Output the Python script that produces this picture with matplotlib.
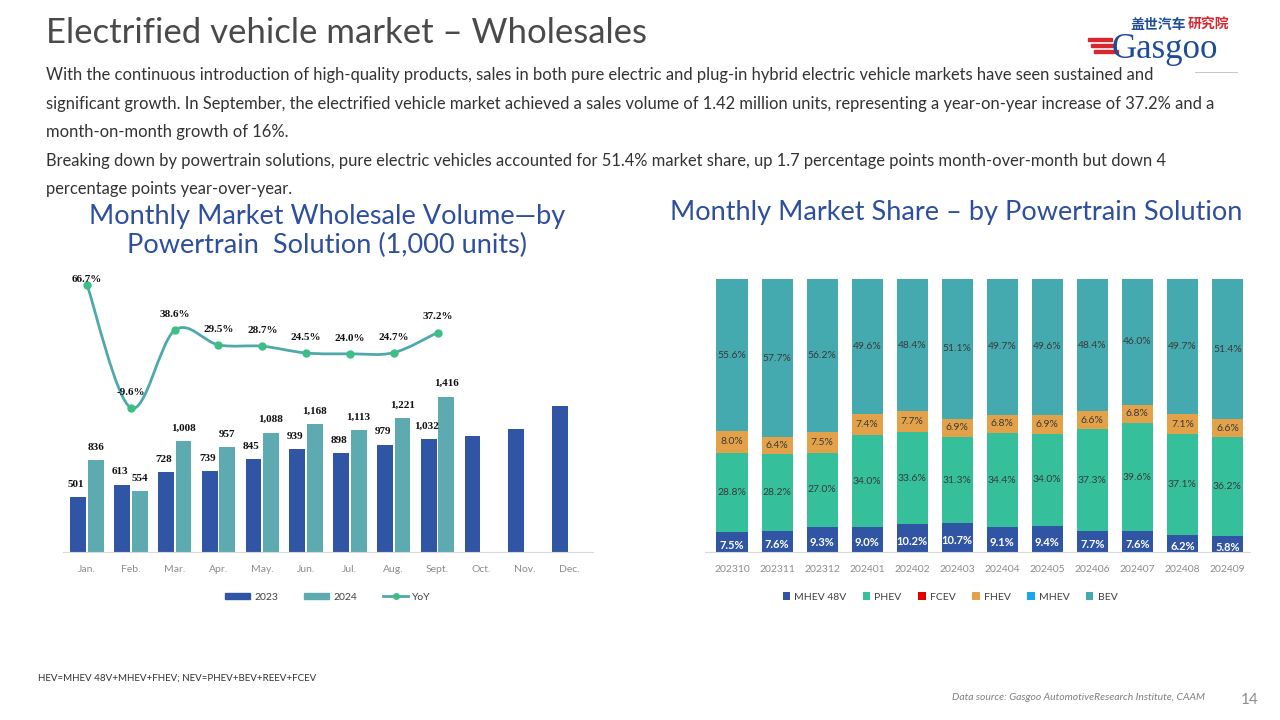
import matplotlib.pyplot as plt
from matplotlib.path import Path
from matplotlib.patches import PathPatch, Rectangle
from matplotlib.lines import Line2D

W, H = 1280, 720

months = ["Jan.", "Feb.", "Mar.", "Apr.", "May.", "Jun.", "Jul.", "Aug.",
          "Sept.", "Oct.", "Nov.", "Dec."]
vol_2023 = [501, 613, 728, 739, 845, 939, 898, 979, 1032, 1058, 1121, 1331]
vol_2024 = [836, 554, 1008, 957, 1088, 1168, 1113, 1221, 1416]
yoy = [66.7, -9.6, 38.6, 29.5, 28.7, 24.5, 24.0, 24.7, 37.2]
# the 2023 Oct-Dec bars carry no label in the source
labelled_2023 = 9

periods = ["202310", "202311", "202312", "202401", "202402", "202403",
           "202404", "202405", "202406", "202407", "202408", "202409"]
share_mhev48 = [7.5, 7.6, 9.3, 9.0, 10.2, 10.7, 9.1, 9.4, 7.7, 7.6, 6.2, 5.8]
share_phev = [28.8, 28.2, 27.0, 34.0, 33.6, 31.3, 34.4, 34.0, 37.3, 39.6, 37.1, 36.2]
share_fcev = [0] * 12
share_fhev = [8.0, 6.4, 7.5, 7.4, 7.7, 6.9, 6.8, 6.9, 6.6, 6.8, 7.1, 6.6]
share_mhev = [0] * 12
share_bev = [55.6, 57.7, 56.2, 49.6, 48.4, 51.1, 49.7, 49.6, 48.4, 46.0, 49.7, 51.4]

C_2023 = "#2F55A4"
C_2024 = "#5DAAB1"
C_LINE = "#4FA9AC"
C_MARK = "#3DBE85"
C_TITLE = "#2E4F9E"
SANS = "Lato"


def box(x0, y0, x1, y1):
    # pixel box (top-left origin) -> figure fraction rect
    return [x0 / W, 1 - y1 / H, (x1 - x0) / W, (y1 - y0) / H]


def smooth_path(xs, ys):
    # Catmull-Rom through the points, like Excel's smoothed line
    pts = list(zip(xs, ys))
    verts = [pts[0]]
    codes = [Path.MOVETO]
    n = len(pts)
    for i in range(n - 1):
        p0 = pts[max(i - 1, 0)]
        p1 = pts[i]
        p2 = pts[i + 1]
        p3 = pts[min(i + 2, n - 1)]
        c1 = (p1[0] + (p2[0] - p0[0]) / 6, p1[1] + (p2[1] - p0[1]) / 6)
        c2 = (p2[0] - (p3[0] - p1[0]) / 6, p2[1] - (p3[1] - p1[1]) / 6)
        verts += [c1, c2, p2]
        codes += [Path.CURVE4] * 3
    return Path(verts, codes)


fig = plt.figure(figsize=(12.8, 7.2), dpi=100)
fig.patch.set_facecolor("white")

# ---- header text
fig.text(46 / W, 1 - 33 / H, "Electrified vehicle market \u2013 Wholesales",
         family=SANS, fontsize=25, color="#4A4A4A", va="center")
body = [
    "With the continuous introduction of high-quality products, sales in both pure electric and plug-in hybrid electric vehicle markets have seen sustained and",
    "significant growth. In September, the electrified vehicle market achieved a sales volume of 1.42 million units, representing a year-on-year increase of 37.2% and a",
    "month-on-month growth of 16%.",
    "Breaking down by powertrain solutions, pure electric vehicles accounted for 51.4% market share, up 1.7 percentage points month-over-month but down 4",
    "percentage points year-over-year.",
]
for k, line in enumerate(body):
    fig.text(46 / W, 1 - (75 + 28.6 * k) / H, line, family=SANS, fontsize=11.9,
             color="#333333", va="center")

# ---- logo
fig.text(1186 / W, 1 - 25 / H, "盖世汽车", family="Noto Sans CJK SC",
         weight="bold", fontsize=10, color="#1F4E9A", va="center", ha="right")
fig.text(1188 / W, 1 - 25 / H, "研究院", family="Noto Sans CJK SC",
         weight="bold", fontsize=10, color="#D7282F", va="center", ha="left")
fig.text(1112 / W, 1 - 50 / H, "Gasgoo", family="Liberation Serif",
         fontsize=25, color="#1E4C9A", va="center")
for k in range(3):
    fig.patches.append(Rectangle(((1088 + 3 * k) / W, 1 - (41 + 6 * k) / H),
                                 24 / W, 3.5 / H, transform=fig.transFigure,
                                 color="#D7282F"))
fig.add_artist(Line2D([1195 / W, 1237 / W], [1 - 72 / H, 1 - 72 / H],
                      color="#BBBBBB", lw=0.6))

# ---- chart titles
fig.text(327 / W, 1 - 231 / H,
         "Monthly Market Wholesale Volume\u2014by\nPowertrain  Solution (1,000 units)",
         family=SANS, fontsize=19.5, color=C_TITLE, ha="center", va="center",
         linespacing=1.17)
fig.text(956 / W, 1 - 212 / H, "Monthly Market Share \u2013 by Powertrain Solution",
         family=SANS, fontsize=19.5, color=C_TITLE, ha="center", va="center")

# ---- left chart: volumes + YoY
ax = fig.add_axes(box(63, 270, 593, 552))
x_all = list(range(len(months)))
bw = 0.36
ax.bar([i - 0.2 for i in x_all], vol_2023, width=bw, color=C_2023, label="2023")
x24 = list(range(len(vol_2024)))
ax.bar([i + 0.2 for i in x24], vol_2024, width=bw, color=C_2024, label="2024")
for i in range(labelled_2023):
    ax.annotate(f"{vol_2023[i]:,}", (i - 0.25, vol_2023[i]), xytext=(0, 6),
                textcoords="offset points", ha="center", va="bottom",
                family="Liberation Serif", weight="bold", fontsize=8, color="#111111")
for i in x24:
    ax.annotate(f"{vol_2024[i]:,}", (i + 0.2, vol_2024[i]), xytext=(0, 6),
                textcoords="offset points", ha="center", va="bottom",
                family="Liberation Serif", weight="bold", fontsize=8, color="#111111")
ax.set_xlim(-0.55, 11.55)
ax.set_ylim(0, 2570)
ax.set_xticks(x_all)
ax.set_xticklabels(months, family=SANS, fontsize=7.5, color="#8C8C8C")
ax.tick_params(axis="x", length=0, pad=9)
ax.set_yticks([])
for s in ["top", "left", "right"]:
    ax.spines[s].set_visible(False)
ax.spines["bottom"].set_color("#D9D9D9")
ax.patch.set_alpha(0)

ax2 = ax.twinx()
ax2.set_ylim(-99, 76)
ax2.add_patch(PathPatch(smooth_path(x24, yoy), fill=False, edgecolor=C_LINE,
                        lw=2, capstyle="round"))
ax2.plot(x24, yoy, "o", color=C_MARK, ms=5, zorder=3)
for i, v in enumerate(yoy):
    off = 1 if i == 0 else 8
    ax2.annotate(f"{v:.1f}%", (i, v), xytext=(0, off), textcoords="offset points",
                 ha="center", va="bottom", family="Liberation Serif",
                 weight="bold", fontsize=8, color="#111111")
ax2.set_yticks([])
for s in ax2.spines.values():
    s.set_visible(False)

handles = [Rectangle((0, 0), 1, 1, color=C_2023), Rectangle((0, 0), 1, 1, color=C_2024),
           Line2D([], [], color=C_LINE, lw=2, marker="o", ms=4, mfc=C_MARK, mec=C_MARK)]
fig.legend(handles, ["2023", "2024", "YoY"], loc="center", ncol=3,
           bbox_to_anchor=(328 / W, 1 - 597 / H), frameon=False,
           prop={"family": SANS, "size": 7.5}, handlelength=2.4, handleheight=0.6,
           columnspacing=2.5, handletextpad=0.4, labelcolor="#404040")

# ---- right chart: 100% stacked shares
axr = fig.add_axes(box(705, 279, 1250, 552))
series = [("MHEV 48V", share_mhev48, "#2F55A4"), ("PHEV", share_phev, "#35C09B"),
          ("FCEV", share_fcev, "#E00000"), ("FHEV", share_fhev, "#E3A24A"),
          ("MHEV", share_mhev, "#19A7EC"), ("BEV", share_bev, "#45A9B0")]
xr = list(range(len(periods)))
bottom = [0.0] * len(periods)
for name, vals, col in series:
    axr.bar(xr, vals, width=0.69, bottom=bottom, color=col, label=name)
    for i, v in enumerate(vals):
        if v <= 0:
            continue
        white = name == "MHEV 48V"
        axr.text(i, bottom[i] + v / 2 - (1.2 if white else 0), f"{v:.1f}%",
                 ha="center", va="center", family=SANS,
                 fontsize=8 if white else 7.5,
                 color="white" if white else "#3A3A3A",
                 weight="bold" if white else "normal")
    bottom = [b + v for b, v in zip(bottom, vals)]
axr.set_xlim(-0.6, 11.5)
axr.set_ylim(0, 100)
axr.set_xticks(xr)
axr.set_xticklabels(periods, family=SANS, fontsize=7.5, color="#8C8C8C")
axr.tick_params(axis="x", length=0, pad=9)
axr.set_yticks([])
for s in ["top", "left", "right"]:
    axr.spines[s].set_visible(False)
axr.spines["bottom"].set_color("#D9D9D9")
hr, lr = axr.get_legend_handles_labels()
fig.legend(hr, lr, loc="center", ncol=6, bbox_to_anchor=(950 / W, 1 - 597 / H),
           frameon=False, prop={"family": SANS, "size": 7.5}, handlelength=0.7,
           handleheight=0.7, columnspacing=1.6, handletextpad=0.4,
           labelcolor="#404040")

# ---- footer
fig.text(38 / W, 1 - 678 / H, "HEV=MHEV 48V+MHEV+FHEV; NEV=PHEV+BEV+REEV+FCEV",
         family=SANS, fontsize=7, color="#333333", va="center")
fig.text(1205 / W, 1 - 698 / H, "Data source: Gasgoo AutomotiveResearch Institute, CAAM",
         family=SANS, style="italic", fontsize=7.5, color="#7F7F7F",
         ha="right", va="center")
fig.text(1250 / W, 1 - 700 / H, "14", family=SANS, fontsize=11,
         color="#8C8C8C", ha="center", va="center")

fig.savefig("out.png", dpi=100)
